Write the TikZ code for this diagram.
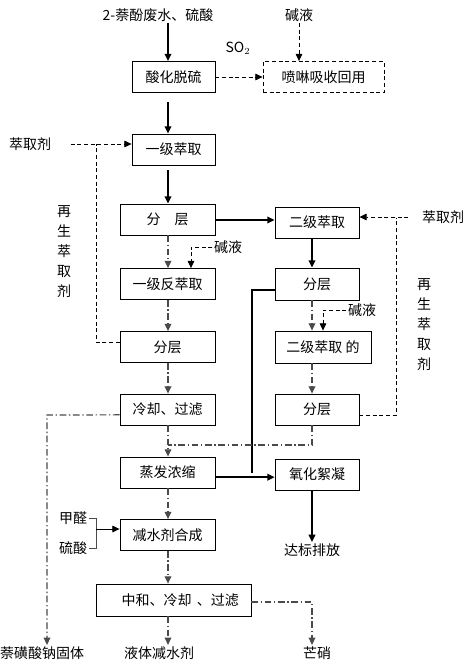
\documentclass[tikz,border=0pt]{standalone}
\usepackage{fontspec}
\setmainfont{Noto Sans CJK SC}
\usepackage{tikz}
\usetikzlibrary{arrows.meta,positioning,calc}
\definecolor{inkgray}{HTML}{4A4A4A}

\begin{document}
\begin{tikzpicture}[
  x=0.75pt, y=-0.75pt,
  font=\fontsize{10.5}{12}\selectfont,
  >={Triangle[length=5.5pt,width=5pt]},
  procbox/.style={
    draw=black,
    line width=0.6pt,
    minimum height=23.25pt,
    inner sep=1pt
  },
  mainflow/.style={->, line width=1.3pt},
  auxflow/.style={line width=0.7pt, dash pattern=on 3pt off 2pt},
  liqflow/.style={line width=0.9pt, inkgray, dash pattern=on 5pt off 2pt on 1pt off 2pt},
  plain/.style={inner sep=1pt}
]
  \useasboundingbox (0,0) rectangle (464,664);

  % Feed and acid desulfurisation
  \node[plain] (feed) at (158,15) {2-萘酚废水、硫酸};
  \node[plain] (lyetop) at (299,15) {碱液};
  \node[plain] (so2) at (238,48) {SO$_2$};
  \node[procbox, minimum width=62.25pt] (sour) at (173.5,77) {酸化脱硫};
  \node[procbox, minimum width=90.75pt, dash pattern=on 3pt off 2pt] (spray) at (323.5,77) {喷啉吸收回用};

  % Left column
  \node[plain] (solvL) at (30,144) {萃取剂};
  \node[procbox, minimum width=62.25pt] (ext1) at (173.5,149.5) {一级萃取};
  \node[procbox, minimum width=71.25pt] (sep1) at (167.5,219.5) {分\quad 层};
  \node[plain] (lyeL) at (228,247) {碱液};
  \node[procbox, minimum width=71.25pt] (back1) at (167.5,284) {一级反萃取};
  \node[procbox, minimum width=71.25pt] (sep2) at (167.5,347) {分层};
  \node[procbox, minimum width=71.25pt] (cool) at (167.5,409.5) {冷却、过滤};
  \node[procbox, minimum width=71.25pt] (evap) at (167.5,472.5) {蒸发浓缩};
  \node[plain] (formal) at (73,518) {甲醛};
  \node[plain] (sulf) at (73,548) {硫酸};
  \node[procbox, minimum width=71.25pt] (synth) at (167.5,535) {减水剂合成};
  \node[procbox, minimum width=116.25pt, minimum height=24pt] (neut) at (173.5,600) {\hspace{10pt}中和、冷却\hspace{4pt}、过滤};
  \node[plain, align=center, font=\fontsize{10.5}{15}\selectfont] (regenL) at (64,252) {再\\生\\萃\\取\\剂};

  % Right column
  \node[procbox, minimum width=63pt] (ext2) at (317,222.5) {二级萃取};
  \node[plain] (solvR) at (443,217) {萃取剂};
  \node[procbox, minimum width=63pt, minimum height=24pt] (sep2r) at (317,284) {分层};
  \node[plain] (lyeR) at (362,310) {碱液};
  \node[procbox, minimum width=72pt, minimum height=24pt] (strip2) at (323,347) {二级萃取 的};
  \node[procbox, minimum width=63pt] (sep3r) at (317,409.5) {分层};
  \node[procbox, minimum width=63pt] (oxid) at (317,474.5) {氧化絮凝};
  \node[plain] (dischg) at (312,550) {达标排放};
  \node[plain, align=center, font=\fontsize{10.5}{15}\selectfont] (regenR) at (424,325) {再\\生\\萃\\取\\剂};

  % Products
  \node[plain] (salt) at (42,653) {萘磺酸钠固体};
  \node[plain] (liquid) at (159,653) {液体减水剂};
  \node[plain] (mirab) at (317,653) {芒硝};

  % Junction points
  \coordinate (lcol) at (168,0);
  \coordinate (rcol) at (312,0);
  \coordinate (joinL) at (96,144);
  \coordinate (joinR) at (396,218);
  \coordinate (riser) at (252,290);
  \coordinate (merge) at (312,445);
  \coordinate (saltturn) at (47,415);
  \coordinate (brk) at (96,518);

  % Main (solid) flow
  \draw[mainflow] (feed.south -| lcol) -- (sour.north -| lcol);
  \draw[mainflow] (sour.south -| lcol) ++(0,9) -- (ext1.north -| lcol);
  \draw[mainflow] (ext1.south -| lcol) ++(0,5) -- (sep1.north -| lcol);
  \draw[mainflow] ([yshift=-0.375pt]sep1.east) -- ([yshift=-0.375pt]sep1.east -| ext2.west);
  \draw[mainflow] (ext2.south -| rcol) -- (sep2r.north -| rcol);
  \draw[line width=1.3pt] ([yshift=-4.5pt]sep2r.west) -- (riser) -- (riser |- evap.east);
  \draw[mainflow] ([yshift=-3.5pt]evap.east) -- ([yshift=-3.5pt]evap.east -| oxid.west);
  \draw[mainflow] (oxid.south -| rcol) -- (dischg.north -| rcol);

  % Lye, solvent and SO2 lines (dashed)
  \draw[auxflow, ->] (sour.east) -- (spray.west);
  \draw[auxflow, ->] (lyetop.south) -- (spray.north -| lyetop);
  \draw[auxflow, ->] (solvL.east) ++(18,0) -- (solvL.east -| ext1.west);
  \draw[auxflow] ([yshift=3.75pt]sep2.west) -| (joinL);
  \draw[auxflow, ->] (solvR.west) ++(-12,0) -- (solvR.west -| ext2.east);
  \draw[auxflow] ([yshift=-4.5pt]sep3r.east) -| (joinR);
  \draw[auxflow, ->] (lyeL.west) -| ($(back1.north)+(23.5,0)$);
  \draw[auxflow, ->] (lyeR.west) -| (strip2.north);

  % Liquor (dash-dot) flow
  \draw[liqflow, ->] (sep1.south -| lcol) -- (back1.north -| lcol);
  \draw[liqflow, ->] (back1.south -| lcol) -- (sep2.north -| lcol);
  \draw[liqflow, ->] (sep2.south -| lcol) -- (cool.north -| lcol);
  \draw[liqflow, ->] (cool.south -| lcol) -- (evap.north -| lcol);
  \draw[liqflow] (sep3r.south -| rcol) -- (merge) -- (merge -| lcol);
  \draw[liqflow, ->] (sep2r.south -| rcol) -- (strip2.north -| rcol);
  \draw[liqflow, ->] (strip2.south -| rcol) -- (sep3r.north -| rcol);
  \draw[liqflow, ->] ([yshift=-4pt]cool.west) -- (saltturn) -- (salt.north -| saltturn);
  \draw[liqflow, ->] (evap.south -| lcol) -- (synth.north -| lcol);
  \draw[liqflow, ->] (synth.south -| lcol) -- (neut.north -| lcol);
  \draw[liqflow, ->] (neut.south -| lcol) -- (liquid.north -| lcol);
  \draw[liqflow, ->] ([yshift=-1.5pt]neut.east) -| (mirab.north -| rcol);

  % Formaldehyde / sulfuric acid feed
  \draw[line width=0.7pt, inkgray] (formal.east) -- (brk) -- (brk |- sulf.east) -- (sulf.east);
  \draw[->, line width=0.7pt] (96,529) -- (synth.west |- 0,529);

\end{tikzpicture}
\end{document}
